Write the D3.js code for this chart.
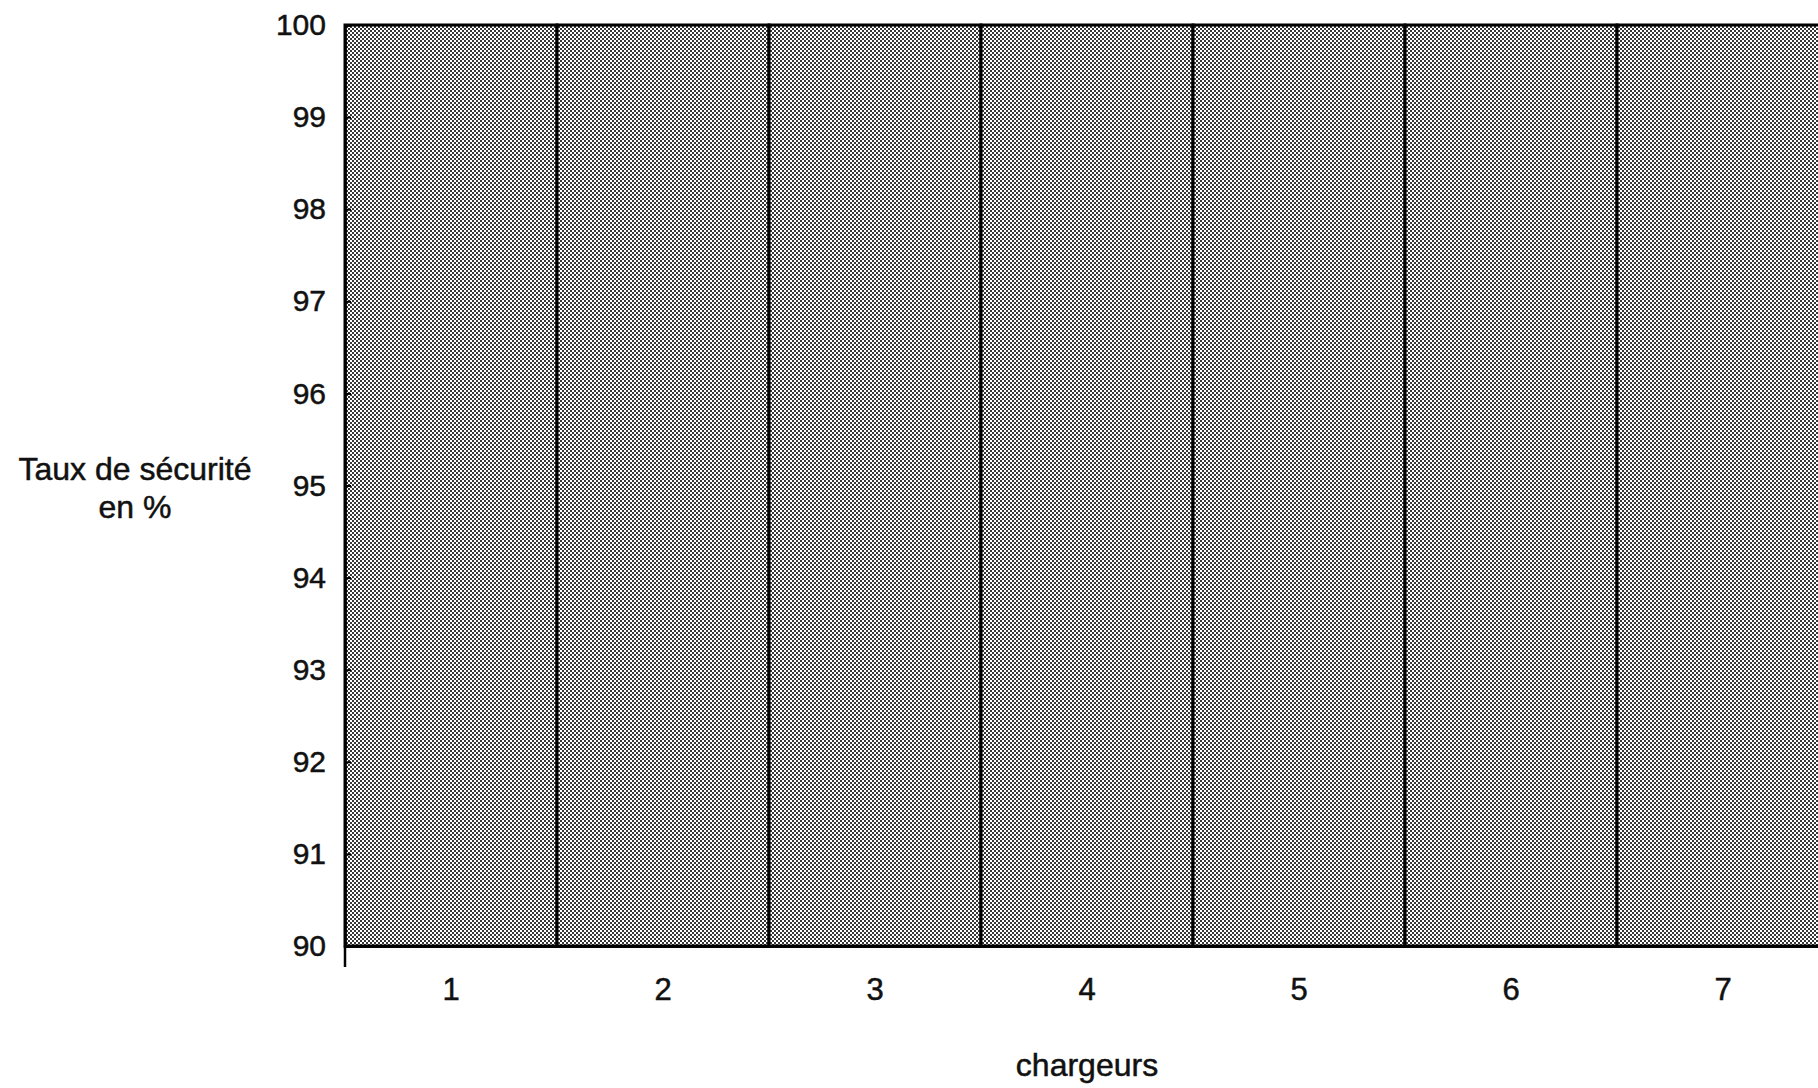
<!DOCTYPE html>
<html>
<head>
<meta charset="utf-8">
<script src="https://cdn.jsdelivr.net/npm/d3@7"></script>
<style>
  html, body { margin: 0; padding: 0; background: #fff; }
  svg { display: block; }
  text { font-family: "Liberation Sans", Arial, Helvetica, sans-serif; fill: #111; stroke: #111; stroke-width: 0.5px; }
</style>
</head>
<body>
<svg id="chart" width="1818" height="1088"></svg>
<script>
const categories = ["1", "2", "3", "4", "5", "6", "7"];
const values = [100, 100, 100, 100, 100, 100, 100];
const yTicks = [90, 91, 92, 93, 94, 95, 96, 97, 98, 99, 100];
const yLabelLines = ["Taux de sécurité", "en %"];
const xLabel = "chargeurs";

(function () {
const svg = d3.select("#chart");
const mLeft = 345, mRight = 1829, mTop = 25, mBottom = 946;

const x = d3.scaleBand().domain(categories).range([mLeft, mRight]).padding(0);
const y = d3.scaleLinear().domain([90, 100]).range([mBottom, mTop]);

// halftone pattern
const defs = svg.append("defs");
const pat = defs.append("pattern").attr("id", "halftone")
  .attr("patternUnits", "userSpaceOnUse").attr("width", 4).attr("height", 4);
pat.append("rect").attr("width", 4).attr("height", 4).attr("fill", "#fff");
pat.append("rect").attr("x", 0).attr("y", 0).attr("width", 2).attr("height", 2).attr("fill", "#383838");
pat.append("rect").attr("x", 2).attr("y", 2).attr("width", 2).attr("height", 2).attr("fill", "#383838");

// bars
svg.append("g").selectAll("rect").data(categories).join("rect")
  .attr("x", d => x(d))
  .attr("y", (d, i) => y(values[i]))
  .attr("width", x.bandwidth())
  .attr("height", (d, i) => y(90) - y(values[i]))
  .attr("fill", "url(#halftone)")
  .attr("stroke", "#000")
  .attr("stroke-width", 3);

// y axis
const yAxis = d3.axisLeft(y).tickValues(yTicks).tickSize(-6).tickPadding(19).tickFormat(d3.format("d"));
const gy = svg.append("g").attr("transform", `translate(${mLeft},0)`).call(yAxis);
gy.select(".domain").attr("stroke", "#000").attr("stroke-width", 2.5);
gy.selectAll(".tick line").attr("stroke", "#000").attr("stroke-width", 2);
gy.selectAll(".tick text").style("font-size", "30px").attr("fill", "#111")
  .attr("font-family", "Liberation Sans, Arial, sans-serif");
gy.append("line").attr("x1", 0).attr("x2", 0).attr("y1", mBottom).attr("y2", mBottom + 21)
  .attr("stroke", "#000").attr("stroke-width", 2.5);

// x axis
const xAxis = d3.axisBottom(x).tickSize(0).tickPadding(32);
const gx = svg.append("g").attr("transform", `translate(0,${mBottom})`).call(xAxis);
gx.select(".domain").attr("stroke", "#000").attr("stroke-width", 3);
gx.selectAll(".tick text").style("font-size", "31px").attr("fill", "#111")
  .attr("font-family", "Liberation Sans, Arial, sans-serif");

// y label
const yl = svg.append("text").attr("text-anchor", "middle").style("font-size", "32px");
yLabelLines.forEach((t, i) => {
  yl.append("tspan").attr("x", 135).attr("y", 480 + i * 38).text(t);
});

// x label
svg.append("text").attr("x", (mLeft + mRight) / 2).attr("y", 1076)
  .attr("text-anchor", "middle").style("font-size", "32px").text(xLabel);
})();
</script>
</body>
</html>
